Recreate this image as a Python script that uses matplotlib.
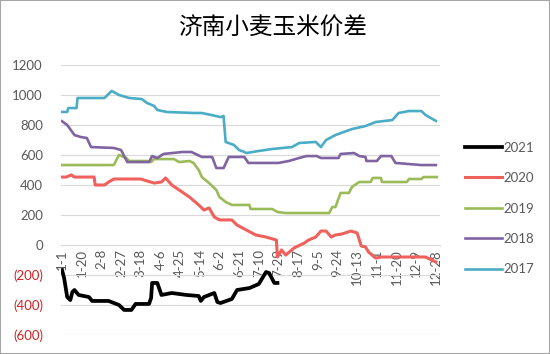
import matplotlib
matplotlib.use('Agg')
import matplotlib.pyplot as plt
from matplotlib.patches import Rectangle

# day-of-year index -> spread value
d2017 = [0, 5, 6, 14, 15, 41, 48, 55, 65, 77, 82, 89, 92, 101, 127, 135, 144, 153, 156, 158,
         166, 171, 176, 178, 190, 203, 222, 229, 245, 250, 255, 264, 280, 293, 303, 319, 325,
         335, 347, 351, 361]
v2017 = [887, 887, 913, 913, 980, 980, 1027, 1000, 980, 973, 947, 927, 900, 887, 880, 880, 867,
         853, 860, 687, 667, 633, 620, 613, 627, 640, 653, 680, 687, 653, 700, 733, 773, 793, 820,
         833, 880, 893, 893, 867, 827]

d2018 = [0, 5, 12, 18, 24, 28, 50, 57, 63, 84, 87, 92, 98, 116, 125, 135, 145, 149, 156, 161,
         176, 180, 209, 219, 229, 236, 246, 250, 267, 269, 282, 287, 293, 294, 304, 308, 318, 322,
         347, 361]
v2018 = [825, 800, 733, 720, 713, 653, 647, 633, 553, 553, 593, 580, 607, 620, 620, 587, 587,
         513, 513, 587, 587, 547, 547, 560, 580, 593, 593, 580, 580, 607, 613, 593, 587, 560, 560,
         593, 593, 547, 533, 533]

d2019 = [0, 50, 55, 62, 65, 82, 86, 89, 108, 113, 123, 127, 132, 135, 142, 149, 152, 158, 164,
         181, 182, 203, 208, 216, 258, 261, 264, 269, 277, 280, 287, 298, 300, 308, 309, 333, 335,
         347, 349, 362]
v2019 = [533, 533, 600, 580, 560, 560, 553, 573, 573, 553, 560, 547, 500, 453, 413, 367, 320,
         287, 267, 267, 240, 240, 220, 213, 213, 253, 253, 347, 347, 387, 420, 420, 447, 447, 420,
         420, 440, 440, 453, 453]

d2020 = [0, 4, 9, 12, 31, 32, 41, 45, 50, 76, 82, 89, 96, 100, 106, 113, 123, 132, 137, 142,
         147, 152, 164, 169, 178, 187, 197, 207, 208, 212, 216, 224, 234, 238, 245, 250, 255, 260,
         264, 270, 279, 285, 289, 293, 296, 303, 308, 351, 357, 361]
v2020 = [453, 453, 467, 453, 453, 400, 400, 420, 440, 440, 427, 413, 420, 447, 400, 367, 320,
         267, 233, 247, 187, 167, 167, 133, 100, 67, 53, 33, -80, -33, -67, -20, 13, 33, 53, 93,
         93, 53, 67, 73, 93, 80, -7, -13, -47, -87, -80, -80, -100, -113]

d2021 = [0, 2, 5, 8, 10, 12, 16, 26, 29, 45, 55, 60, 67, 71, 84, 86, 87, 92, 96, 106, 120, 132,
         134, 137, 147, 150, 153, 164, 169, 181, 190, 197, 200, 205, 208]
v2021 = [-167, -220, -347, -367, -313, -300, -333, -347, -373, -373, -400, -433, -433, -393,
         -393, -353, -253, -253, -333, -320, -333, -340, -373, -347, -320, -380, -387, -360,
         -300, -287, -260, -180, -187, -253, -253]

tick_days = list(range(0, 365, 19))
tick_labels = ['1-1', '1-20', '2-8', '2-27', '3-18', '4-6', '4-25', '5-14', '6-2', '6-21',
               '7-10', '7-29', '8-17', '9-5', '9-24', '10-13', '11-1', '11-20', '12-9', '12-28']
y_ticks = [-600, -400, -200, 0, 200, 400, 600, 800, 1000, 1200]

plt.rcParams['font.family'] = ['Lato', 'DejaVu Sans']

fig = plt.figure(figsize=(5.5, 3.54), dpi=100)
ax = fig.add_axes([61 / 550, 1 - 335 / 354, 379 / 550, 270 / 354])

ax.plot(d2021, v2021, color='black', lw=2.7, label='2021', zorder=6)
ax.plot(d2020, v2020, color='#F0605C', lw=2.2, label='2020', zorder=5)
ax.plot(d2019, v2019, color='#9BBB59', lw=1.9, label='2019', zorder=4)
ax.plot(d2018, v2018, color='#8064A2', lw=1.9, label='2018', zorder=4)
ax.plot(d2017, v2017, color='#4BACC6', lw=1.9, label='2017', zorder=4)

ax.spines['bottom'].set_position(('data', 0))
ax.spines['bottom'].set_color('#D9D9D9')
for s in ['top', 'right', 'left']:
    ax.spines[s].set_visible(False)

ax.set_xlim(-1, 365)
ax.set_ylim(-600, 1200)
ax.set_yticks(y_ticks)
ax.set_yticklabels([f'({-v})' if v < 0 else str(v) for v in y_ticks])
for lab, v in zip(ax.get_yticklabels(), y_ticks):
    lab.set_color('#D02020' if v < 0 else '#595959')
ax.grid(axis='y', color='#D9D9D9', lw=0.8)
ax.set_axisbelow(True)

ax.set_xticks(tick_days)
ax.set_xticklabels(tick_labels, color='#595959')
ax.tick_params(axis='both', length=0, labelsize=9.5)
ax.tick_params(axis='y', pad=13)
ax.tick_params(axis='x', pad=3, labelrotation=90)

fig.text(273 / 550, 1 - 28 / 354, '济南小麦玉米价差', ha='center', va='center',
         fontsize=17, family=['Noto Sans CJK SC', 'DejaVu Sans'])

fig.legend(loc='upper left', bbox_to_anchor=(458 / 550, 1 - 135 / 354), frameon=False,
           fontsize=9.5, handlelength=2.8, handletextpad=0.15, labelspacing=1.4,
           borderpad=0, labelcolor='#595959')

fig.patches.append(Rectangle((0, 0), 1, 1, transform=fig.transFigure, fill=False,
                             edgecolor='#A6A6A6', lw=1.5))

fig.savefig('out.png', dpi=100)
